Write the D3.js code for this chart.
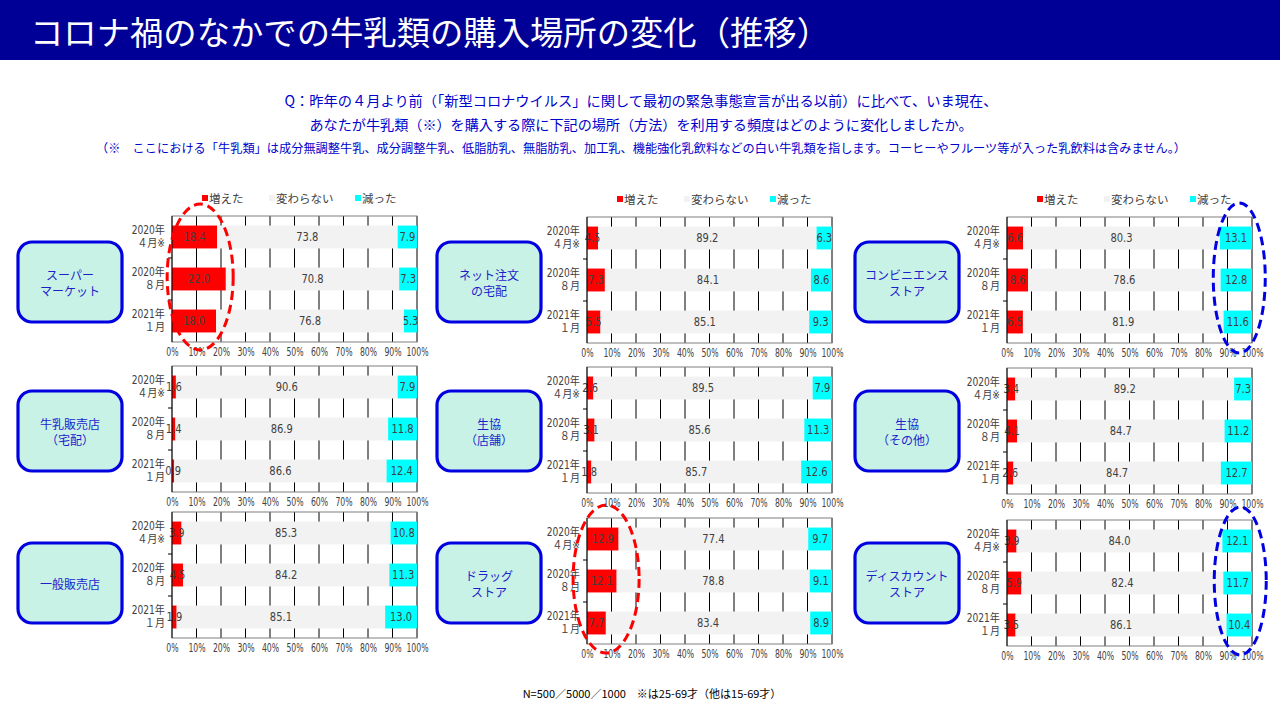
<!DOCTYPE html>
<html>
<head>
<meta charset="utf-8">
<script src="https://cdn.jsdelivr.net/npm/d3@7"></script>
<style>
body { margin: 0; background: #fff; }
svg { display: block; }
</style>
</head>
<body>
<div class="chart"></div>
<script>
//----Data----
const places = [
  ["スーパー", "マーケット"],
  ["ネット注文", "の宅配"],
  ["コンビニエンス", "ストア"],
  ["牛乳販売店", "（宅配）"],
  ["生協", "（店舗）"],
  ["生協", "（その他）"],
  ["一般販売店"],
  ["ドラッグ", "ストア"],
  ["ディスカウント", "ストア"]
]

const periods = [["2020年", "４月※"], ["2020年", "８月"], ["2021年", "１月"]]

const seriesNames = ["増えた", "変わらない", "減った"]

// one row per place, one value per period
const increased = [
  [18.4, 22.0, 18.0],
  [4.5, 7.3, 5.5],
  [6.6, 8.6, 6.5],
  [1.6, 1.4, 0.9],
  [2.6, 3.1, 1.8],
  [3.4, 4.1, 2.6],
  [3.9, 4.5, 1.9],
  [12.9, 12.1, 7.7],
  [3.9, 5.9, 3.5]
]

const unchanged = [
  [73.8, 70.8, 76.8],
  [89.2, 84.1, 85.1],
  [80.3, 78.6, 81.9],
  [90.6, 86.9, 86.6],
  [89.5, 85.6, 85.7],
  [89.2, 84.7, 84.7],
  [85.3, 84.2, 85.1],
  [77.4, 78.8, 83.4],
  [84.0, 82.4, 86.1]
]

const decreased = [
  [7.9, 7.3, 5.3],
  [6.3, 8.6, 9.3],
  [13.1, 12.8, 11.6],
  [7.9, 11.8, 12.4],
  [7.9, 11.3, 12.6],
  [7.3, 11.2, 12.7],
  [10.8, 11.3, 13.0],
  [9.7, 9.1, 8.9],
  [12.1, 11.7, 10.4]
]

const xTickValues = [0, 10, 20, 30, 40, 50, 60, 70, 80, 90, 100]

const titleText = "コロナ禍のなかでの牛乳類の購入場所の変化（推移）"
const questionLines = [
  "Q：昨年の４月より前（「新型コロナウイルス」に関して最初の緊急事態宣言が出る以前）に比べて、いま現在、",
  "あなたが牛乳類（※）を購入する際に下記の場所（方法）を利用する頻度はどのように変化しましたか。",
  "（※　ここにおける「牛乳類」は成分無調整牛乳、成分調整牛乳、低脂肪乳、無脂肪乳、加工乳、機能強化乳飲料などの白い牛乳類を指します。コーヒーやフルーツ等が入った乳飲料は含みません。）"
]
const footText = "N=500／5000／1000　※は25-69才（他は15-69才）"

//----Layout----
const W = 1280, H = 720
const keys = ["inc", "same", "dec"]
const colors = {inc: "#FF0000", same: "#F2F2F2", dec: "#00FFFF"}
const numFont = "'DejaVu Sans Condensed', 'DejaVu Sans', sans-serif"
const jpFont = "'Noto Sans CJK JP', sans-serif"

const colX = [172, 587, 1007]
const rowTop = [[216, 217, 217], [366, 367, 368], [512, 518, 520]]
const boxX = [18, 437, 855]
const boxMid = [282, 431, 583]
const plotW = 245, plotH = 126

const svg = d3.select(".chart").append("svg")
    .attr("width", W)
    .attr("height", H)

// header
svg.append("rect")
    .attr("width", W).attr("height", 60)
    .attr("fill", "#000096")

svg.append("text")
    .attr("x", 30).attr("y", 31)
    .attr("dominant-baseline", "central")
    .attr("fill", "#fff")
    .attr("font-family", jpFont)
    .attr("font-size", 33)
    .attr("textLength", 800)
    .attr("lengthAdjust", "spacingAndGlyphs")
    .text(titleText)

const qY = [100, 124, 147], qSize = [14, 14, 12], qLen = [713, 663, 1090]
questionLines.forEach((t, i) => {
  svg.append("text")
    .attr("x", 641).attr("y", qY[i])
    .attr("text-anchor", "middle")
    .attr("dominant-baseline", "central")
    .attr("fill", "#0000CC")
    .attr("font-family", jpFont)
    .attr("font-size", qSize[i])
    .attr("textLength", qLen[i])
    .attr("lengthAdjust", "spacingAndGlyphs")
    .text(t)
})

svg.append("text")
    .attr("x", 652).attr("y", 693)
    .attr("text-anchor", "middle")
    .attr("dominant-baseline", "central")
    .attr("fill", "#000")
    .attr("font-family", jpFont)
    .attr("font-size", 11)
    .text(footText)

const xScale = d3.scaleLinear().domain([0, 1]).range([0, plotW])
const yScale = d3.scaleBand()
    .domain(periods.map(p => p.join("")))
    .range([0, plotH])
    .paddingInner(0.455)
    .paddingOuter(0.2275)

const panels = []

places.forEach((name, i) => {
  const col = i % 3, row = Math.floor(i / 3)
  const left = colX[col], top = rowTop[row][col]

  const rows = periods.map((p, j) => ({
    period: p.join(""),
    inc: increased[i][j],
    same: unchanged[i][j],
    dec: decreased[i][j]
  }))
  const stacked = d3.stack().keys(keys).offset(d3.stackOffsetExpand)(rows)

  // label box
  const bx = boxX[col], bw = 104, bh = 80, by = boxMid[row] - bh / 2
  svg.append("rect")
    .attr("x", bx).attr("y", by)
    .attr("width", bw).attr("height", bh)
    .attr("rx", 14)
    .attr("fill", "#C9F2E7")
    .attr("stroke", "#0000E0")
    .attr("stroke-width", 3.2)

  name.forEach((line, k) => {
    svg.append("text")
      .attr("x", bx + bw / 2)
      .attr("y", by + bh / 2 + (k - (name.length - 1) / 2) * 16)
      .attr("text-anchor", "middle")
      .attr("dominant-baseline", "central")
      .attr("fill", "#1E1ECC")
      .attr("font-family", jpFont)
      .attr("font-size", 12)
      .text(line)
  })

  const g = svg.append("g")
    .attr("transform", `translate(${left},${top})`)

  // gridlines behind bars
  g.selectAll(".grid")
    .data(xTickValues.slice(1))
    .join("line")
    .attr("class", "grid")
    .attr("x1", d => xScale(d / 100)).attr("x2", d => xScale(d / 100))
    .attr("y1", 0).attr("y2", plotH)
    .attr("stroke", "#000")
    .attr("stroke-width", 1)

  g.append("rect")
    .attr("width", plotW).attr("height", plotH)
    .attr("fill", "none")
    .attr("stroke", "#7F7F7F")

  // bars
  g.selectAll(".layer")
    .data(stacked)
    .join("g")
    .attr("class", "layer")
    .attr("fill", d => colors[d.key])
    .selectAll("rect")
    .data(d => d)
    .join("rect")
    .attr("x", d => xScale(d[0]))
    .attr("y", d => yScale(d.data.period))
    .attr("width", d => xScale(d[1]) - xScale(d[0]))
    .attr("height", yScale.bandwidth())

  // values
  stacked.forEach(layer => {
    g.selectAll(".val-" + layer.key)
      .data(layer)
      .join("text")
      .attr("class", "val-" + layer.key)
      .attr("transform", d => `translate(${(xScale(d[0]) + xScale(d[1])) / 2},${yScale(d.data.period) + yScale.bandwidth() / 2}) scale(0.85,1)`)
      .attr("dominant-baseline", "central")
      .attr("text-anchor", "middle")
      .attr("fill", "#404040")
      .attr("font-family", numFont)
      .attr("font-size", 13)
      .text(d => d.data[layer.key].toFixed(1))
  })

  // left axis with boundary ticks
  g.append("line")
    .attr("x1", 0).attr("x2", 0)
    .attr("y1", 0).attr("y2", plotH)
    .attr("stroke", "#000")

  g.selectAll(".ytick")
    .data(yScale.domain().slice(1))
    .join("line")
    .attr("class", "ytick")
    .attr("x1", -4).attr("x2", 0)
    .attr("y1", d => yScale(d) - yScale.step() * yScale.paddingInner() / 2)
    .attr("y2", d => yScale(d) - yScale.step() * yScale.paddingInner() / 2)
    .attr("stroke", "#000")

  // category labels
  periods.forEach(p => {
    const cy = yScale(p.join("")) + yScale.bandwidth() / 2
    p.forEach((line, k) => {
      g.append("text")
        .attr("transform", `translate(-7,${cy - 6.5 + k * 13}) scale(0.88,1)`)
        .attr("text-anchor", "end")
        .attr("dominant-baseline", "central")
        .attr("fill", "#404040")
        .attr("font-family", numFont + ", " + jpFont)
        .attr("font-size", 11.5)
        .text(line)
    })
  })

  // x axis
  const xAxis = d3.axisBottom(xScale)
      .tickValues(xTickValues.map(v => v / 100))
      .tickFormat(v => Math.round(v * 100) + "%")
      .tickSize(0)
      .tickPadding(6)

  g.append("g")
    .attr("class", "axis x-axis")
    .attr("transform", `translate(0,${plotH})`)
    .call(xAxis)
    .call(a => a.select(".domain").remove())
    .selectAll("text")
    .attr("transform", "scale(0.75,1)")
    .attr("fill", "#404040")
    .attr("font-family", numFont)
    .attr("font-size", 11.5)

  // legend only on the top row
  if (row === 0) {
    const offs = [30, 97, 183]
    const lg = g.append("g").attr("transform", `translate(0,-18)`)
    keys.forEach((k, n) => {
      lg.append("rect")
        .attr("x", offs[n]).attr("y", -3)
        .attr("width", 6).attr("height", 6)
        .attr("fill", colors[k])
      lg.append("text")
        .attr("x", offs[n] + 7).attr("y", 0)
        .attr("dominant-baseline", "central")
        .attr("fill", "#404040")
        .attr("font-family", jpFont)
        .attr("font-size", 11.5)
        .text(seriesNames[n])
    })
  }

  panels.push({left, top})
})

// ----Highlight ellipses----
const highlights = [
  {panel: 0, color: "#FF0000", at: 0.115, rx: 33, ry: 73},
  {panel: 7, color: "#FF0000", at: 0.078, rx: 33, ry: 74},
  {panel: 2, color: "#0000E0", at: 0.948, rx: 26, ry: 75},
  {panel: 8, color: "#0000E0", at: 0.952, rx: 26, ry: 74}
]

svg.selectAll(".hl")
  .data(highlights)
  .join("ellipse")
  .attr("class", "hl")
  .attr("cx", d => panels[d.panel].left + xScale(d.at))
  .attr("cy", d => panels[d.panel].top + plotH / 2 - 2)
  .attr("rx", d => d.rx)
  .attr("ry", d => d.ry)
  .attr("fill", "none")
  .attr("stroke", d => d.color)
  .attr("stroke-width", 3)
  .attr("stroke-dasharray", "9,5")
</script>
</body>
</html>
